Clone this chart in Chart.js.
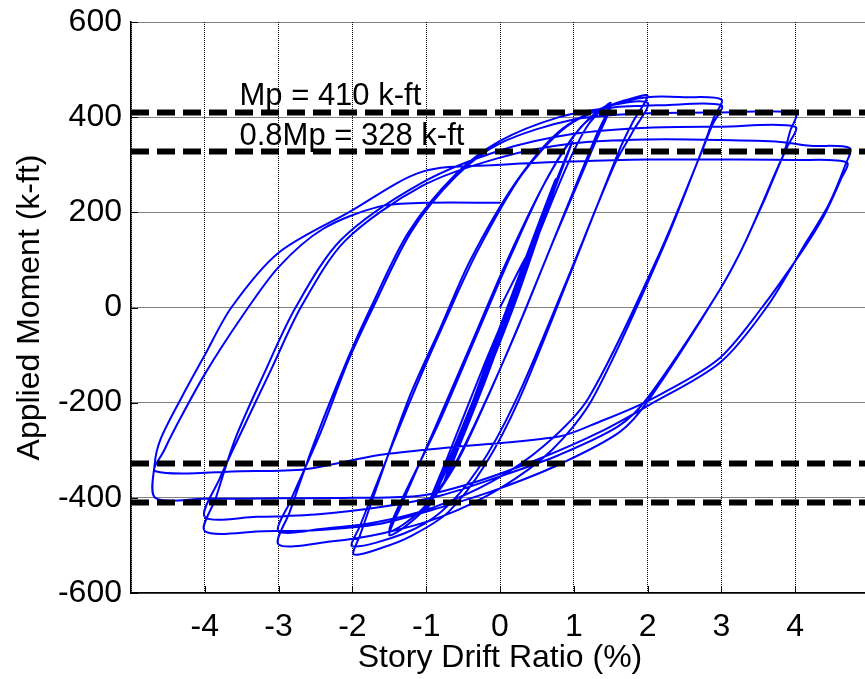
<!DOCTYPE html>
<html>
<head>
<meta charset="utf-8">
<script src="https://cdn.jsdelivr.net/npm/chart.js@4.4.1/dist/chart.umd.min.js"></script>
<style>
  html, body { margin: 0; padding: 0; background: #fff; overflow: hidden; }
  #wrap { width: 875px; height: 679px; }
</style>
</head>
<body>
<div id="wrap"><canvas id="grafico"></canvas></div>
<script>
// ticks
const xTicks = [-4, -3, -2, -1, 0, 1, 2, 3, 4];
const yTicks = [-600, -400, -200, 0, 200, 400, 600];

// reference levels (k-ft)
const refLevels = [410, 328, -328, -410];
const refNotes = ['Mp = 410 k-ft', '0.8Mp = 328 k-ft'];

// hysteresis path, [drift %, moment k-ft] in loading order
const startPt = [[0, 0]];
const elastic = [
  [0.38, 112], [0.1, -16], [-0.38, -208], [-0.1, -84],
  [0.37, 108], [0.09, -20], [-0.37, -203], [-0.09, -82],
  [0.38, 110], [0.1, -14], [-0.38, -206], [-0.1, -86],
  [0.5, 162], [0.1, -15], [-0.5, -262], [-0.1, -82],
  [0.5, 158], [0.11, -12], [-0.49, -258], [-0.09, -80],
  [0.51, 164], [0.1, -18], [-0.5, -264], [-0.1, -84],
  [0.75, 268], [0.2, 22], [-0.2, -150], [-0.75, -366], [-0.2, -128], [0.2, 42],
  [0.74, 262], [0.2, 20], [-0.2, -152], [-0.74, -362], [-0.2, -126], [0.2, 40],
  [0.76, 270], [0.2, 18], [-0.2, -154], [-0.76, -368], [-0.2, -130], [0.2, 38]
];
const cycles1 = [
  [0.7, 242], [0.97, 345], [0.7, 238], [0.2, 10], [-0.3, -185], [-0.7, -330], [-1.0, -425],
  [-0.7, -310], [-0.2, -115], [0.3, 70], [0.7, 235], [0.98, 348], [0.7, 232], [0.2, 8], [-0.3, -188], [-0.7, -332], [-1.0, -428]
];
const cycles15 = [
  [-0.6, -285], [-0.1, -95], [0.4, 105], [0.9, 295], [1.2, 385], [1.5, 430],
  [1.3, 360], [0.8, 170], [0.3, -20], [-0.2, -200], [-0.6, -330], [-1.0, -420], [-1.3, -462], [-1.5, -478],
  [-1.35, -420], [-0.9, -260], [-0.4, -80], [0.1, 100], [0.6, 260], [1.0, 360], [1.3, 410], [1.5, 425],
  [1.3, 350], [0.75, 150], [0.25, -40], [-0.25, -215], [-0.65, -340], [-1.0, -415], [-1.3, -455], [-1.5, -470]
];
const cycles2 = [
  [-1.35, -410], [-0.85, -250], [-0.35, -70], [0.15, 110], [0.65, 275], [1.1, 380], [1.5, 425], [1.8, 440], [2.0, 445],
  [1.8, 390], [1.62, 332], [0.95, 70], [0.26, -193], [-0.2, -330], [-0.7, -430], [-1.2, -480], [-1.6, -505], [-1.98, -519],
  [-1.9, -480], [-1.24, -193], [-0.8, -40], [-0.4, 100], [0.2, 260], [0.8, 370], [1.4, 420], [2.0, 430],
  [1.8, 370], [1.55, 300], [0.9, 55], [0.2, -200], [-0.3, -340], [-0.8, -430], [-1.3, -475], [-2.0, -502]
];
const cycles3 = [
  [-1.9, -460], [-1.2, -190], [-0.75, -30], [-0.3, 120], [0.3, 280], [0.9, 380], [1.5, 425], [2.0, 442], [2.5, 442], [3.0, 437],
  [2.9, 400], [2.74, 332], [2.2, 122], [1.25, -193], [0.7, -300], [0.0, -380], [-0.8, -440], [-1.6, -475], [-2.3, -492], [-3.0, -498],
  [-2.85, -430], [-2.5, -277], [-2.05, -103], [-1.75, 0], [-1.24, 158], [-0.6, 280], [0.0, 350], [0.8, 400], [1.5, 420], [2.2, 425], [3.0, 425],
  [2.88, 385], [2.7, 315], [2.15, 110], [1.2, -190], [0.6, -290], [-0.1, -365], [-0.9, -420], [-1.7, -452], [-2.4, -465], [-3.0, -470]
];
const cycles4 = [
  [-2.85, -410], [-2.45, -270], [-2.05, -110], [-1.72, 0], [-1.2, 160], [-0.6, 275], [0.0, 345], [1.0, 395], [2.0, 408], [3.0, 410], [4.0, 408],
  [3.93, 370], [3.83, 317], [3.34, 143], [2.98, 38], [2.02, -193], [1.62, -262], [0.8, -330], [0.0, -380], [-0.8, -420], [-1.64, -455], [-2.5, -468], [-3.2, -470], [-4.0, -470],
  [-3.85, -400], [-3.59, -277], [-3.2, -140], [-2.77, 0], [-2.15, 143], [-1.06, 262], [0.0, 330], [1.0, 365], [2.0, 378], [3.0, 380], [4.0, 380],
  [3.9, 340], [3.78, 300], [3.3, 130], [2.95, 30], [2.0, -190], [1.6, -250], [0.8, -310], [0.0, -355], [-0.8, -395], [-1.64, -420], [-2.5, -435], [-3.3, -440], [-4.0, -440]
];
const cycles47 = [
  [-3.8, -360], [-3.5, -260], [-3.1, -130], [-2.7, 0], [-2.1, 140], [-1.06, 255], [0.0, 315], [1.0, 345], [2.0, 353], [3.0, 352], [3.8, 348], [4.2, 340], [4.74, 335],
  [4.68, 300], [4.45, 215], [4.16, 140], [3.61, 0], [2.98, -116], [2.02, -205], [1.35, -262], [0.5, -320], [-0.3, -365], [-1.06, -395], [-2.0, -400], [-3.0, -401], [-4.0, -402], [-4.67, -400],
  [-4.68, -330], [-4.6, -277], [-4.3, -185], [-4.0, -100], [-3.64, 0], [-3.0, 115], [-2.05, 200], [-1.06, 285], [0.0, 300], [1.0, 307], [2.0, 311], [3.0, 311], [4.0, 310], [4.7, 305],
  [4.62, 270], [4.38, 190], [4.1, 120], [3.55, 0], [2.95, -110], [2.02, -195], [1.35, -240], [0.8, -271], [-0.69, -294], [-1.64, -310], [-2.64, -340], [-3.5, -344], [-4.67, -344]
];
const finalReload = [
  [-4.55, -300], [-4.39, -250], [-4.0, -140], [-3.5, -20], [-3.0, 85], [-2.4, 165], [-1.64, 212], [-1.0, 220], [0.0, 220]
];

const FONT = '"Liberation Sans", Arial, sans-serif';
Chart.defaults.font.family = FONT;
Chart.defaults.color = '#000';

const ruta = [].concat(startPt, elastic, cycles1, cycles15, cycles2, cycles3, cycles4, cycles47, finalReload)
  .map(p => ({ x: p[0], y: p[1] }));

const datasets = refLevels.map(v => ({
  data: [{ x: -5, y: v }, { x: 5, y: v }],
  showLine: true,
  borderColor: '#000',
  borderWidth: 6,
  borderDash: [18, 8],
  pointRadius: 0
}));
datasets.push({
  data: ruta,
  showLine: true,
  borderColor: '#0000ff',
  borderWidth: 2,
  pointRadius: 0,
  tension: 0.3
});

// inward tick marks and the two text notes
const extras = {
  id: 'extras',
  afterDatasetsDraw(chart) {
    const ctx = chart.ctx;
    const xs = chart.scales.x, ys = chart.scales.y, area = chart.chartArea;
    ctx.save();
    ctx.strokeStyle = '#000';
    ctx.lineWidth = 1;
    xTicks.forEach(v => {
      const px = Math.round(xs.getPixelForValue(v)) + 0.5;
      ctx.beginPath(); ctx.moveTo(px, area.bottom); ctx.lineTo(px, area.bottom - 7); ctx.stroke();
    });
    yTicks.forEach(v => {
      const py = Math.round(ys.getPixelForValue(v)) + 0.5;
      ctx.beginPath(); ctx.moveTo(area.left, py); ctx.lineTo(area.left + 7, py); ctx.stroke();
    });
    ctx.font = '31px ' + FONT;
    ctx.fillStyle = '#000';
    ctx.textBaseline = 'alphabetic';
    ctx.fillText(refNotes[0], xs.getPixelForValue(-3.53), ys.getPixelForValue(426));
    ctx.fillText(refNotes[1], xs.getPixelForValue(-3.53), ys.getPixelForValue(342));
    ctx.restore();
  }
};

new Chart(document.getElementById('grafico'), {
  type: 'scatter',
  data: { datasets },
  plugins: [extras],
  options: {
    responsive: true,
    maintainAspectRatio: false,
    animation: false,
    layout: { padding: { top: 22, right: 6, left: 0, bottom: 0 } },
    plugins: { legend: { display: false }, tooltip: { enabled: false } },
    scales: {
      x: {
        type: 'linear', min: -5, max: 5,
        afterFit: s => { s.height = 86; s.paddingLeft = 0; s.paddingRight = 0; },
        ticks: {
          stepSize: 1, padding: 15, font: { size: 32 }, color: '#000',
          callback: v => (xTicks.includes(v) ? String(v) : '')
        },
        grid: { color: '#000', lineWidth: 1, drawTicks: false },
        border: { display: true, color: '#000', width: 1.5, dash: [1, 1] },
        title: { display: true, text: 'Story Drift Ratio (%)', font: { size: 32 }, color: '#000', padding: { bottom: 2 } }
      },
      y: {
        min: -600, max: 600,
        afterFit: s => { s.width = 131; s.paddingTop = 0; s.paddingBottom = 0; },
        ticks: { stepSize: 200, padding: 9, font: { size: 32 }, color: '#000' },
        grid: { color: '#000', lineWidth: 1, drawTicks: false },
        border: { display: true, color: '#000', width: 1.5, dash: [1, 1] },
        title: { display: true, text: 'Applied Moment (k-ft)', font: { size: 32 }, color: '#000', padding: { top: 11 } }
      }
    }
  }
});
</script>
</body>
</html>
